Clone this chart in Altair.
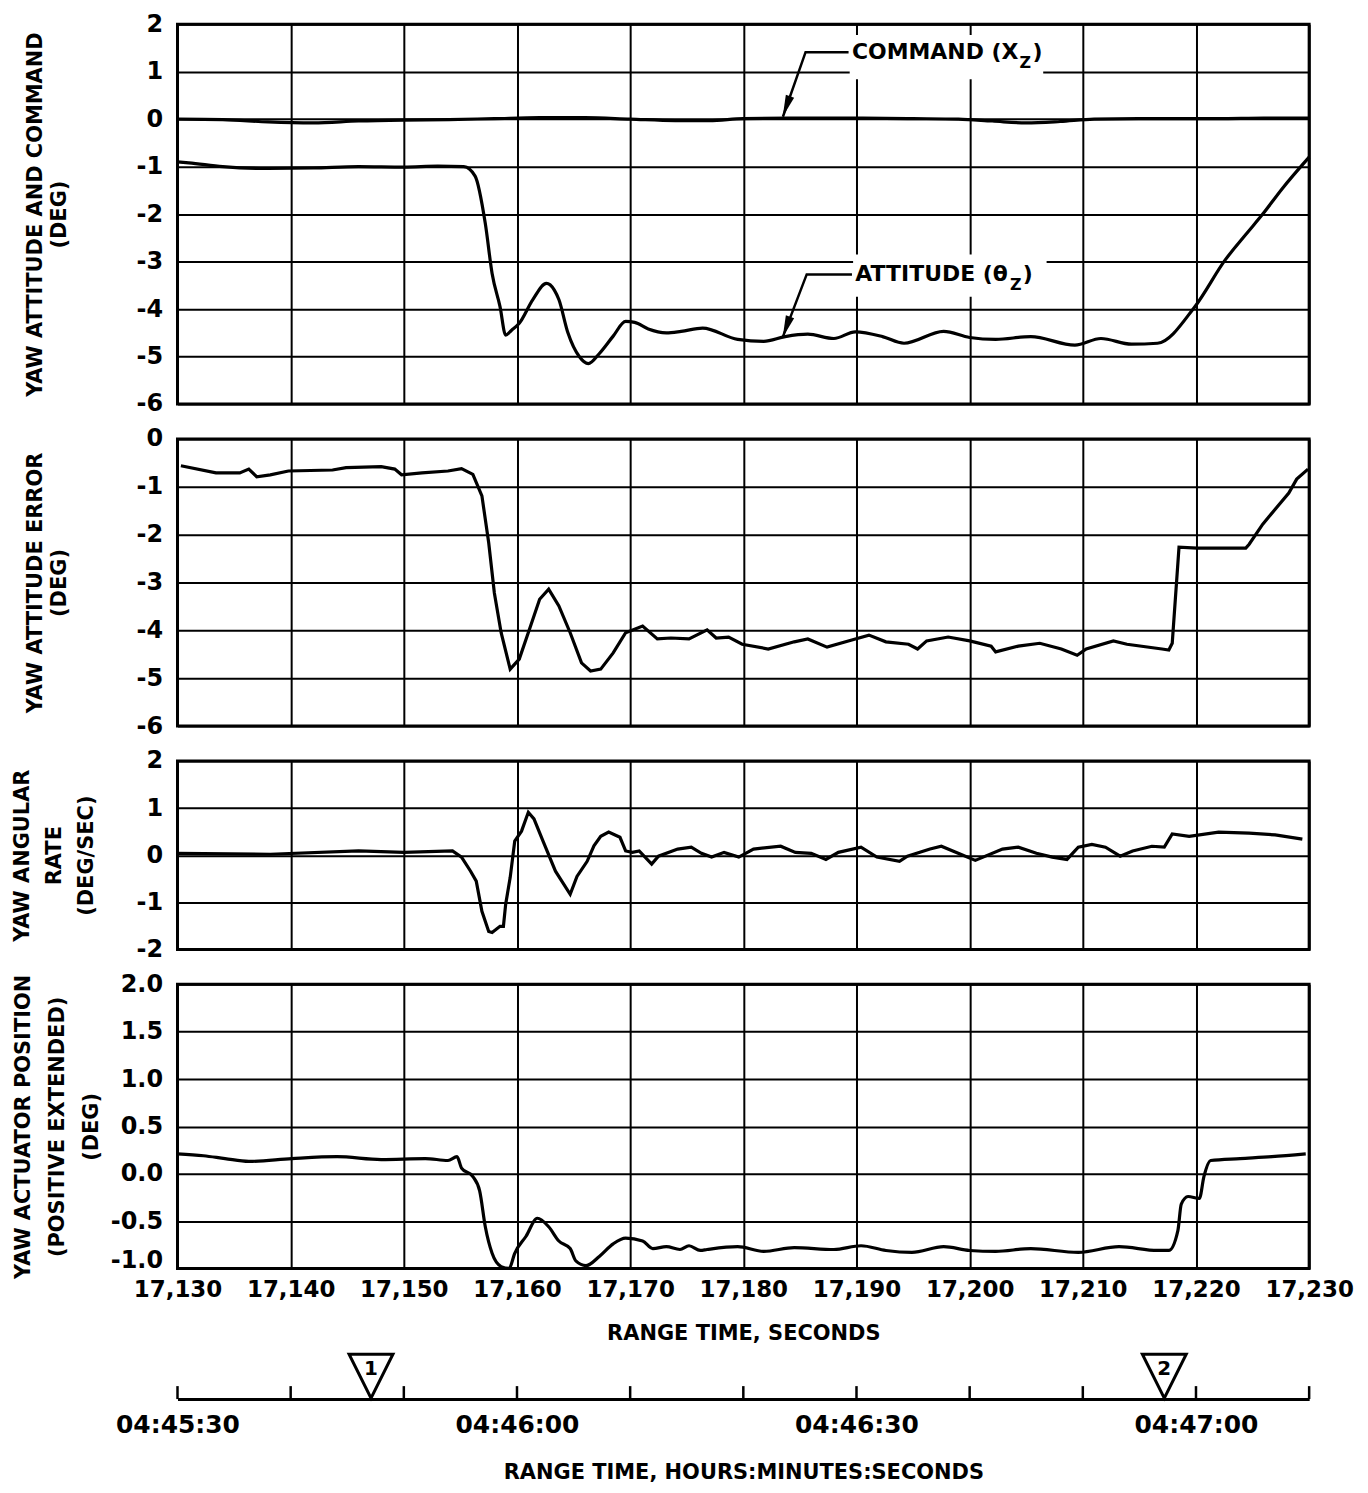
import altair as alt
import pandas as pd

FONT = "DejaVu Sans"

# ---------------- shared axis definitions ----------------
X_DOMAIN = [17130, 17230]
X_TICKS = [17130, 17140, 17150, 17160, 17170, 17180, 17190, 17200, 17210, 17220, 17230]
X_TICK_LABELS = ["17,130", "17,140", "17,150", "17,160", "17,170", "17,180",
                 "17,190", "17,200", "17,210", "17,220", "17,230"]
TIME_LABEL_VALUES = [17130, 17160, 17190, 17220]
TIME_LABELS = ["04:45:30", "04:46:00", "04:46:30", "04:47:00"]
MARKER_T = [17147.1, 17217.2]
MARKER_TEXT = ["1", "2"]

# ---------------- panel 1: yaw attitude and command ----------------
CMD_T = [17130, 17134, 17138, 17142, 17146, 17150, 17154, 17158, 17162, 17166, 17170,
         17174, 17177, 17180, 17185, 17190, 17195, 17199, 17202, 17205, 17208, 17211,
         17216, 17222, 17226, 17230]
CMD_V = [0.0, -0.01, -0.06, -0.08, -0.04, -0.02, -0.01, 0.01, 0.03, 0.03, 0.0,
         -0.03, -0.03, 0.01, 0.02, 0.02, 0.01, 0.0, -0.04, -0.08, -0.05, 0.0,
         0.01, 0.01, 0.02, 0.02]

ATT_T = [17130, 17131, 17134, 17138, 17142, 17146, 17150, 17153, 17155.3, 17156.3,
         17157.2, 17157.8, 17158.5, 17159.0, 17159.5, 17160.2, 17161.4, 17162.6, 17163.3,
         17163.7, 17164.5, 17165.5, 17166.3, 17167.3, 17168.5, 17169.6, 17170.4, 17171.6,
         17173.2, 17174.5, 17176.4, 17179.5, 17181.8, 17183.7, 17185.7, 17188, 17189.9,
         17192.3, 17194.2, 17197.7, 17200, 17202.3, 17205.4, 17209.3, 17211.6, 17214.3,
         17216.6, 17219.9, 17222.6, 17224.4, 17225.9, 17227.6, 17230]
ATT_V = [-0.9, -0.92, -1.0, -1.04, -1.03, -1.0, -1.01, -0.99, -1.0, -1.2,
         -2.2, -3.25, -3.95, -4.55, -4.45, -4.3, -3.8, -3.46, -3.6,
         -3.8, -4.5, -5.0, -5.15, -4.93, -4.57, -4.26, -4.28, -4.42,
         -4.5, -4.47, -4.4, -4.64, -4.68, -4.58, -4.53, -4.62, -4.48,
         -4.58, -4.72, -4.47, -4.6, -4.64, -4.58, -4.76, -4.62, -4.74,
         -4.72, -3.95, -2.96, -2.43, -2.0, -1.47, -0.8]

# ---------------- panel 2: yaw attitude error ----------------
ERR_T = [17130.3, 17133.4, 17135.5, 17136.3, 17137, 17138.2, 17139.8, 17143.7, 17144.9,
         17148, 17149.2, 17149.8, 17151.6, 17153.9, 17155.1, 17156.1, 17156.9, 17157.5,
         17158, 17158.6, 17159.4, 17160.2, 17161.2, 17162, 17162.8, 17163.7, 17164.7,
         17165.7, 17166.5, 17167.4, 17168.5, 17169.6, 17171.1, 17172.4, 17173.6, 17175.2,
         17176.8, 17177.6, 17178.7, 17179.9, 17182.2, 17184.5, 17185.7, 17187.4, 17189.9,
         17191.1, 17192.6, 17194.6, 17195.4, 17196.2, 17198.1, 17200, 17201.9, 17202.3,
         17204.3, 17206.2, 17208.1, 17209.5, 17210.3, 17212.7, 17213.9, 17217, 17217.6,
         17217.9, 17218.5, 17220.1, 17224.4, 17224.7, 17225.9, 17228.2, 17228.9, 17229.9]
ERR_V = [-0.56, -0.71, -0.71, -0.63, -0.79, -0.75, -0.67, -0.65, -0.6,
         -0.58, -0.63, -0.75, -0.71, -0.67, -0.62, -0.74, -1.19, -2.17,
         -3.22, -4.05, -4.81, -4.6, -3.91, -3.35, -3.14, -3.49, -4.05,
         -4.68, -4.85, -4.81, -4.47, -4.05, -3.91, -4.18, -4.16, -4.18,
         -3.99, -4.16, -4.14, -4.29, -4.39, -4.24, -4.18, -4.35, -4.18,
         -4.1, -4.24, -4.29, -4.39, -4.22, -4.14, -4.22, -4.33, -4.45,
         -4.33, -4.27, -4.39, -4.52, -4.39, -4.22, -4.29, -4.39, -4.41,
         -4.27, -2.26, -2.28, -2.28, -2.2, -1.78, -1.13, -0.84, -0.63]

# ---------------- panel 3: yaw angular rate ----------------
RATE_T = [17130, 17138.2, 17146, 17150, 17154.3, 17155.1, 17155.9, 17156.4, 17156.9,
          17157.5, 17157.8, 17158.5, 17158.8, 17159, 17159.4, 17159.8, 17160.4, 17161,
          17161.5, 17162.3, 17163.4, 17164.7, 17165.3, 17166.2, 17166.8, 17167.4, 17168.1,
          17169.1, 17169.6, 17170.2, 17170.8, 17171.9, 17172.5, 17174.2, 17175.4, 17176.3,
          17177.2, 17178.3, 17179.6, 17180.9, 17183.3, 17184.6, 17186, 17187.3, 17188.4,
          17190.4, 17191.8, 17193.8, 17194.5, 17196.5, 17197.5, 17199.2, 17200.5, 17202.9,
          17204.3, 17205.9, 17207.3, 17208.6, 17209.6, 17210.8, 17212, 17213.3, 17214.4,
          17216.1, 17217.2, 17217.9, 17219.4, 17222, 17224.7, 17227, 17229.4]
RATE_V = [0.04, 0.02, 0.09, 0.06, 0.09, -0.04, -0.34, -0.55, -1.19,
          -1.62, -1.64, -1.51, -1.51, -1.04, -0.47, 0.3, 0.51, 0.91,
          0.77, 0.3, -0.34, -0.83, -0.45, -0.13, 0.2, 0.40, 0.49,
          0.38, 0.09, 0.06, 0.09, -0.19, -0.02, 0.13, 0.17, 0.04,
          -0.04, 0.06, -0.04, 0.13, 0.19, 0.06, 0.04, -0.09, 0.06,
          0.17, -0.04, -0.13, -0.02, 0.13, 0.19, 0.02, -0.11, 0.13,
          0.17, 0.04, -0.04, -0.09, 0.17, 0.23, 0.17, -0.02, 0.09,
          0.19, 0.17, 0.45, 0.40, 0.49, 0.47, 0.43, 0.34]

# ---------------- panel 4: yaw actuator position ----------------
ACT_T = [17130, 17132.3, 17134.2, 17136.3, 17140.1, 17144.1, 17148, 17151.9, 17153.9,
         17154.7, 17155.1, 17156.1, 17156.7, 17157.2, 17157.8, 17158.6, 17159.3, 17159.8,
         17160.8, 17161.8, 17162.8, 17163.7, 17164.7, 17165.2, 17166.1, 17167.3, 17168.5,
         17169.6, 17171.1, 17172, 17173.2, 17174.4, 17175.2, 17176.2, 17176.8, 17179.5,
         17181.8, 17184.5, 17188, 17190.4, 17192.6, 17194.9, 17197.7, 17200, 17202.3,
         17205.4, 17209.6, 17213.2, 17216.6, 17217.6, 17218.4, 17218.7, 17219.3, 17220.3,
         17220.7, 17221.3, 17223.9, 17226.7, 17229.7]
ACT_V = [0.21, 0.19, 0.16, 0.13, 0.16, 0.18, 0.15, 0.16, 0.14,
         0.18, 0.06, -0.03, -0.18, -0.56, -0.84, -0.98, -1.0, -0.84,
         -0.66, -0.47, -0.56, -0.71, -0.79, -0.92, -0.97, -0.87, -0.74,
         -0.68, -0.71, -0.79, -0.77, -0.8, -0.76, -0.81, -0.8, -0.77,
         -0.82, -0.78, -0.8, -0.76, -0.81, -0.83, -0.77, -0.81, -0.82,
         -0.79, -0.83, -0.77, -0.81, -0.81, -0.6, -0.32, -0.24, -0.26,
         -0.03, 0.14, 0.16, 0.18, 0.21]

# ---------------- panel 1 annotations ----------------
LABEL_BOX_T1 = [17189.4, 17189.7]
LABEL_BOX_T2 = [17206.5, 17206.8]
LABEL_BOX_V1 = [1.77, -2.85]
LABEL_BOX_V2 = [0.84, -3.74]
LEADER_ID = ["cmd", "cmd", "cmd", "att", "att", "att"]
LEADER_T = [17189.3, 17185.5, 17183.5, 17189.6, 17185.6, 17183.5]
LEADER_V = [1.41, 1.41, 0.05, -3.27, -3.27, -4.58]
ARROW_T = [17183.8, 17183.8]
ARROW_V = [0.265, -4.38]
CMD_LABEL = ("COMMAND (X", "Z", ")")
ATT_LABEL = ("ATTITUDE (\u03b8", "Z", ")")
CMD_LABEL_POS = (17189.6, 1.41)
ATT_LABEL_POS = (17189.9, -3.27)


def label_expr(values, labels):
    expr = "''"
    for v, lab in reversed(list(zip(values, labels))):
        expr = f"datum.value == {v} ? '{lab}' : ({expr})"
    return expr


HYPHEN_EXPR = "replace(datum.label, '\u2212', '-')"

XSCALE = alt.Scale(domain=X_DOMAIN, nice=False, zero=False)
BORDER = alt.ViewBackground(stroke="black", strokeWidth=3, fill="white")

hidden_x_axis = alt.Axis(values=X_TICKS, grid=True, labels=False, ticks=False, tickSize=0,
                         domain=False, title=None)
bottom_x_axis = alt.Axis(values=X_TICKS, grid=True, ticks=False, tickSize=0, domain=False,
                         labelExpr=label_expr(X_TICKS, X_TICK_LABELS), labelFlush=False,
                         labelOverlap=False, labelFontSize=23, labelPadding=10,
                         title="RANGE TIME, SECONDS", titleFontSize=21, titlePadding=21)


def y_axis(values, title, title_x, line_h, fmt="d", bottom_value=None):
    extra = {}
    if bottom_value is not None:
        extra["labelOffset"] = {"condition": {"test": f"datum.value == {bottom_value}",
                                              "value": -8}, "value": 0}
    return alt.Axis(values=values, grid=True, ticks=False, tickSize=0, domain=False,
                    labelFlush=False, labelOverlap=False, labelPadding=15, labelFontSize=24,
                    format=fmt, labelExpr=HYPHEN_EXPR, title=title, titleFontSize=21,
                    titleX=title_x, titleBaseline="middle", titleLineHeight=line_h,
                    titleAngle=270, **extra)


def curve(t, v, xaxis, ydomain, yaxis, interp):
    df = pd.DataFrame({"t": t, "v": v})
    return alt.Chart(df).mark_line(color="black", strokeWidth=3.2, interpolate=interp).encode(
        x=alt.X("t:Q", scale=XSCALE, axis=xaxis),
        y=alt.Y("v:Q", scale=alt.Scale(domain=ydomain, nice=False, zero=False), axis=yaxis),
    )


# ---- panel 1 ----
Y1_DOM = [-6, 2]
Y1_AX = y_axis([-6, -5, -4, -3, -2, -1, 0, 1, 2], ["YAW ATTITUDE AND COMMAND", "(DEG)"], -142, 24)
ys1 = alt.Scale(domain=Y1_DOM, nice=False, zero=False)

boxes = alt.Chart(pd.DataFrame({"t1": LABEL_BOX_T1, "t2": LABEL_BOX_T2,
                                "v1": LABEL_BOX_V1, "v2": LABEL_BOX_V2})).mark_rect(
    color="white").encode(
    x=alt.X("t1:Q", scale=XSCALE, axis=hidden_x_axis), x2="t2",
    y=alt.Y("v1:Q", scale=ys1, axis=Y1_AX), y2="v2")

leaders = alt.Chart(pd.DataFrame({"id": LEADER_ID, "t": LEADER_T, "v": LEADER_V,
                                  "o": list(range(len(LEADER_T)))})).mark_line(
    color="black", strokeWidth=2.5).encode(
    x=alt.X("t:Q", scale=XSCALE, axis=hidden_x_axis),
    y=alt.Y("v:Q", scale=ys1, axis=Y1_AX), detail="id:N", order="o:Q")

arrows = alt.Chart(pd.DataFrame({"t": ARROW_T, "v": ARROW_V})).mark_point(
    shape="M 0 1 L -0.4 -1 L 0.4 -1 Z", size=484, filled=True, color="black", opacity=1,
    angle=19.5).encode(
    x=alt.X("t:Q", scale=XSCALE, axis=hidden_x_axis),
    y=alt.Y("v:Q", scale=ys1, axis=Y1_AX))


def label_parts(parts, pos, main_w):
    df = pd.DataFrame({"t": [pos[0]], "v": [pos[1]]})
    enc = dict(x=alt.X("t:Q", scale=XSCALE, axis=hidden_x_axis),
               y=alt.Y("v:Q", scale=ys1, axis=Y1_AX))
    base = alt.Chart(df)
    a = base.mark_text(text=parts[0], font=FONT, fontWeight="bold", fontSize=22, align="left",
                       baseline="middle", color="black").encode(**enc)
    b = base.mark_text(text=parts[1], font=FONT, fontWeight="bold", fontSize=16, align="left",
                       baseline="middle", color="black", dx=main_w + 1, dy=11).encode(**enc)
    c = base.mark_text(text=parts[2], font=FONT, fontWeight="bold", fontSize=22, align="left",
                       baseline="middle", color="black", dx=main_w + 14).encode(**enc)
    return [a, b, c]


p1 = alt.layer(
    boxes,
    curve(CMD_T, CMD_V, hidden_x_axis, Y1_DOM, Y1_AX, "monotone"),
    curve(ATT_T, ATT_V, hidden_x_axis, Y1_DOM, Y1_AX, "monotone"),
    leaders, arrows,
    *label_parts(CMD_LABEL, CMD_LABEL_POS, 167),
    *label_parts(ATT_LABEL, ATT_LABEL_POS, 154),
).properties(width=1135, height=381, view=BORDER)

# ---- panel 2 ----
Y2_AX = y_axis([-6, -5, -4, -3, -2, -1, 0], ["YAW ATTITUDE ERROR", "(DEG)"], -142, 24)
p2 = curve(ERR_T, ERR_V, hidden_x_axis, [-6, 0], Y2_AX, "linear").properties(
    width=1135, height=288, view=BORDER)

# ---- panel 3 ----
Y3_AX = y_axis([-2, -1, 0, 1, 2], ["YAW ANGULAR", "RATE", "(DEG/SEC)"], -155, 32)
p3 = curve(RATE_T, RATE_V, hidden_x_axis, [-2, 2], Y3_AX, "linear").properties(
    width=1135, height=189, view=BORDER)

# ---- panel 4 ----
Y4_AX = y_axis([-1.0, -0.5, 0.0, 0.5, 1.0, 1.5, 2.0],
               ["YAW ACTUATOR POSITION", "(POSITIVE EXTENDED)", "(DEG)"], -154, 34, ".1f",
               bottom_value=-1)
p4 = curve(ACT_T, ACT_V, bottom_x_axis, [-1, 2], Y4_AX, "monotone").properties(
    width=1135, height=285, view=BORDER)

# ---- clock-time axis ----
time_axis = alt.Axis(values=TIME_LABEL_VALUES, grid=False, ticks=False, tickSize=0, domain=True,
                     domainColor="black", domainWidth=3,
                     labelExpr=label_expr(TIME_LABEL_VALUES, TIME_LABELS), labelFlush=False,
                     labelOverlap=False, labelFontSize=25, labelPadding=14,
                     title="RANGE TIME, HOURS:MINUTES:SECONDS", titleFontSize=21, titlePadding=24)

tick_rules = alt.Chart(pd.DataFrame({"t": X_TICKS})).mark_rule(color="black", strokeWidth=2.5).encode(
    x=alt.X("t:Q", scale=XSCALE, axis=time_axis), y=alt.value(83), y2=alt.value(96))
mk_df = pd.DataFrame({"t": MARKER_T, "lab": MARKER_TEXT})
markers = alt.Chart(mk_df).mark_point(
    shape="M -1 -1 L 1 -1 L 0 1 Z", size=1936, filled=True, fill="white", stroke="black",
    strokeWidth=3, opacity=1).encode(
    x=alt.X("t:Q", scale=XSCALE, axis=time_axis), y=alt.value(73))
marker_txt = alt.Chart(mk_df).mark_text(font=FONT, fontWeight="bold", fontSize=20,
                                        color="black", baseline="middle").encode(
    x=alt.X("t:Q", scale=XSCALE, axis=time_axis), y=alt.value(66), text="lab:N")

tchart = alt.layer(tick_rules, markers, marker_txt).properties(
    width=1135, height=96, view=alt.ViewBackground(strokeWidth=0))

chart = alt.vconcat(p1, p2, p3, p4, tchart, spacing=35, bounds="flush").properties(
    padding={"left": 2, "top": 0, "right": 5, "bottom": 5}
).configure_axis(
    labelFont=FONT, titleFont=FONT, labelFontWeight="bold", titleFontWeight="bold",
    labelColor="black", titleColor="black", gridColor="black", gridOpacity=1, gridWidth=2
)

chart.save("out.html", embed_options={"renderer": "svg", "actions": False})
